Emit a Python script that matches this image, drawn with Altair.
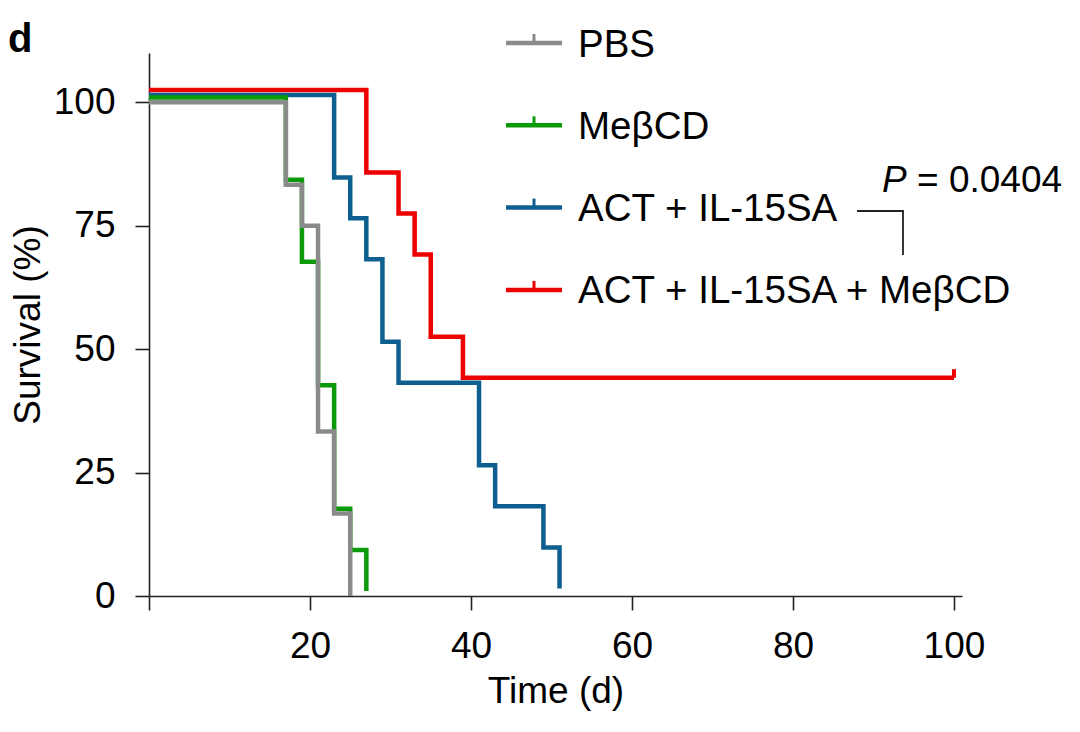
import altair as alt
import pandas as pd

# ---------------- data ----------------
groups = ["PBS", "MeβCD", "ACT + IL-15SA", "ACT + IL-15SA + MeβCD"]
colors = ["#8a8a8a", "#0a9a0a", "#0d5f8f", "#ec0000"]

pbs_t = [0, 17, 19, 21, 23, 25]
pbs_s = [100, 83.3, 75, 33.3, 16.7, 0]

mebcd_t = [0, 17, 19, 21, 23, 25, 27]
mebcd_s = [100, 83.3, 66.7, 41.7, 16.7, 8.3, 0]

act_t = [0, 23, 25, 27, 29, 31, 41, 43, 49, 51]
act_s = [100, 83.3, 75, 66.7, 50, 41.7, 25, 16.7, 8.3, 0]

combo_t = [0, 27, 31, 33, 35, 39, 100]
combo_s = [100, 83.3, 75, 66.7, 50, 41.7, 41.7]

combo_censor_t = [100]
combo_censor_s = [41.7]

# small vertical display shift used in the figure so overlapping curves stay visible
display_shift = [0, 1.0, 1.5, 2.5]

x_ticks = [0, 20, 40, 60, 80, 100]
y_ticks = [0, 25, 50, 75, 100]
p_label = "P"
p_value = "= 0.0404"
panel_label = "d"

FONT = "Liberation Sans"
FS = 37
LEG_FS = 38.5

series_t = [pbs_t, mebcd_t, act_t, combo_t]
series_s = [pbs_s, mebcd_s, act_s, combo_s]

xs = alt.Scale(domain=[0, 101], nice=False, zero=False)
ys = alt.Scale(domain=[0, 110], nice=False)

X = alt.X("t:Q", scale=xs,
          axis=alt.Axis(values=x_ticks, title="Time (d)",
                        labelExpr="datum.value == 0 ? '' : datum.label"))
Y = alt.Y("s:Q", scale=ys, axis=alt.Axis(values=y_ticks, title="Survival (%)"))

layers = []
# draw order: combo, act, mebcd, pbs (PBS on top)
for i in [3, 2, 1, 0]:
    df = pd.DataFrame({"t": series_t[i], "s": [v + display_shift[i] for v in series_s[i]]})
    layers.append(
        alt.Chart(df).mark_line(interpolate="step-after", color=colors[i],
                                strokeWidth=4.5, strokeJoin="miter", strokeCap="butt")
        .encode(x=X, y=Y)
    )

censor_df = pd.DataFrame({"t": combo_censor_t,
                          "s": [v + display_shift[3] for v in combo_censor_s]})
TICK_PATH = "M0,0L0,-1"
layers.append(
    alt.Chart(censor_df).mark_point(shape=TICK_PATH, size=300, filled=False,
                                    stroke=colors[3], strokeWidth=4, opacity=1,
                                    strokeCap="butt")
    .encode(x=X, y=Y)
)

dummy = pd.DataFrame({"a": [0]})

# ---------------- legend (manual) ----------------
leg_x0, leg_x1 = 357, 413
leg_y0, leg_dy = -10, 82.3
for i, g in enumerate(groups):
    yy = leg_y0 + i * leg_dy
    layers.append(
        alt.Chart(dummy).mark_rule(color=colors[i], strokeWidth=4.5, strokeCap="butt")
        .encode(x=alt.value(leg_x0), x2=alt.value(leg_x1), y=alt.value(yy))
    )
    layers.append(
        alt.Chart(dummy).mark_rule(color=colors[i], strokeWidth=3, strokeCap="butt")
        .encode(x=alt.value((leg_x0 + leg_x1) / 2), y=alt.value(yy), y2=alt.value(yy - 9))
    )
    layers.append(
        alt.Chart(dummy).mark_text(text=g, font=FONT, fontSize=LEG_FS, align="left",
                                   baseline="middle", color="black")
        .encode(x=alt.value(429), y=alt.value(yy + 1.5))
    )

# ---------------- P-value bracket ----------------
layers.append(
    alt.Chart(dummy).mark_rule(color="#222", strokeWidth=1.8)
    .encode(x=alt.value(708), x2=alt.value(754), y=alt.value(158))
)
layers.append(
    alt.Chart(dummy).mark_rule(color="#222", strokeWidth=1.8)
    .encode(x=alt.value(754), y=alt.value(157), y2=alt.value(202))
)
layers.append(
    alt.Chart(dummy).mark_text(text=p_label, font=FONT, fontSize=FS, fontStyle="italic",
                               align="left", baseline="alphabetic", color="black")
    .encode(x=alt.value(733), y=alt.value(139))
)
layers.append(
    alt.Chart(dummy).mark_text(text=p_value, font=FONT, fontSize=FS,
                               align="left", baseline="alphabetic", color="black")
    .encode(x=alt.value(768), y=alt.value(139))
)

# panel letter
layers.append(
    alt.Chart(dummy).mark_text(text=panel_label, font=FONT, fontSize=40, fontWeight="bold",
                               align="left", baseline="alphabetic", color="black")
    .encode(x=alt.value(-141), y=alt.value(-1))
)

chart = (
    alt.layer(*layers)
    .properties(width=813, height=543,
                autosize=alt.AutoSizeParams(type="none"),
                padding={"left": 141, "top": 45, "right": 100, "bottom": 120})
    .configure(font=FONT)
    .configure_view(stroke=None)
    .configure_axis(
        grid=False,
        domainColor="#222", domainWidth=1.6,
        tickColor="#222", tickWidth=1.6, tickSize=14,
        labelFont=FONT, labelFontSize=FS, labelColor="black",
        titleFont=FONT, titleFontSize=FS, titleFontWeight="normal", titleColor="black",
    )
    .configure_axisX(labelPadding=18, titlePadding=9)
    .configure_axisY(labelPadding=20, titlePadding=6)
)

chart.save("out.html", embed_options={"renderer": "svg", "actions": False})
